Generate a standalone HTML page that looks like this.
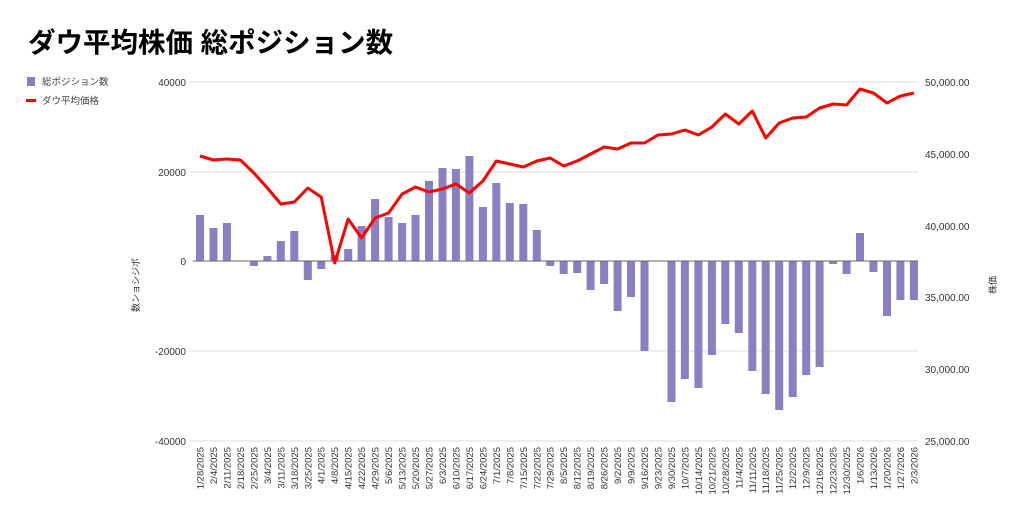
<!DOCTYPE html>
<html><head><meta charset="utf-8"><style>
html,body{margin:0;padding:0;background:#fff;}
svg{display:block;font-family:"Liberation Sans","Noto Sans CJK JP",sans-serif;}
</style></head><body>
<svg width="1024" height="522" viewBox="0 0 1024 522" xmlns="http://www.w3.org/2000/svg">
<text x="28" y="52" font-size="27.5" font-weight="bold" fill="#000">ダウ平均株価 総ポジション数</text>
<rect x="27" y="77" width="8" height="9" fill="#8c7ec2"/>
<text x="42" y="85" font-size="9.5" fill="#444">総ポジション数</text>
<rect x="26" y="99" width="10" height="3" fill="#f00"/>
<text x="42" y="104" font-size="9.5" fill="#444">ダウ平均価格</text>
<g stroke="#ddd" stroke-width="1">
<line x1="190" y1="82" x2="918" y2="82"/><line x1="190" y1="172" x2="918" y2="172"/>
<line x1="190" y1="351" x2="918" y2="351"/><line x1="190" y1="441" x2="918" y2="441"/>
</g>
<g font-size="10" fill="#333" text-anchor="end">
<text x="186" y="86">40000</text><text x="186" y="176">20000</text><text x="186" y="265">0</text>
<text x="186" y="355">-20000</text><text x="186" y="445">-40000</text>
</g>
<g font-size="10" fill="#333">
<text x="925" y="86">50,000.00</text><text x="925" y="158">45,000.00</text><text x="925" y="230">40,000.00</text>
<text x="925" y="301">35,000.00</text><text x="925" y="373">30,000.00</text><text x="925" y="445">25,000.00</text>
</g>
<text transform="translate(139,285) rotate(-90)" font-size="9" fill="#333" text-anchor="middle">数ンョシジポ</text>
<text transform="translate(996,285) rotate(-90)" font-size="9" fill="#333" text-anchor="middle">株価</text>
<g fill="#8c7ec2">
<rect x="196" y="215" width="8" height="46"/><rect x="209.5" y="228" width="8" height="33"/><rect x="222.9" y="223" width="8" height="38"/>
<rect x="249.9" y="261" width="8" height="5"/><rect x="263.4" y="256" width="8" height="5"/><rect x="276.8" y="241" width="8" height="20"/>
<rect x="290.3" y="231" width="8" height="30"/><rect x="303.8" y="261" width="8" height="19"/><rect x="317.2" y="261" width="8" height="8"/>
<rect x="330.7" y="255" width="8" height="6"/><rect x="344.2" y="249" width="8" height="12"/><rect x="357.6" y="226" width="8" height="35"/>
<rect x="371.1" y="199" width="8" height="62"/><rect x="384.6" y="217" width="8" height="44"/><rect x="398.1" y="223" width="8" height="38"/>
<rect x="411.5" y="215" width="8" height="46"/><rect x="425" y="181" width="8" height="80"/><rect x="438.5" y="168" width="8" height="93"/>
<rect x="451.9" y="169" width="8" height="92"/><rect x="465.4" y="156" width="8" height="105"/><rect x="478.9" y="207" width="8" height="54"/>
<rect x="492.3" y="183" width="8" height="78"/><rect x="505.8" y="203" width="8" height="58"/><rect x="519.3" y="204" width="8" height="57"/>
<rect x="532.8" y="230" width="8" height="31"/><rect x="546.2" y="261" width="8" height="5"/><rect x="559.7" y="261" width="8" height="13"/>
<rect x="573.2" y="261" width="8" height="12"/><rect x="586.6" y="261" width="8" height="29"/><rect x="600.1" y="261" width="8" height="23"/>
<rect x="613.6" y="261" width="8" height="50"/><rect x="627" y="261" width="8" height="36"/><rect x="640.5" y="261" width="8" height="90"/>
<rect x="667.5" y="261" width="8" height="141"/><rect x="680.9" y="261" width="8" height="118"/><rect x="694.4" y="261" width="8" height="127"/>
<rect x="707.9" y="261" width="8" height="94"/><rect x="721.3" y="261" width="8" height="63"/><rect x="734.8" y="261" width="8" height="72"/>
<rect x="748.3" y="261" width="8" height="110"/><rect x="761.7" y="261" width="8" height="133"/><rect x="775.2" y="261" width="8" height="149"/>
<rect x="788.7" y="261" width="8" height="136"/><rect x="802.2" y="261" width="8" height="114"/><rect x="815.6" y="261" width="8" height="106"/>
<rect x="829.1" y="261" width="8" height="3"/><rect x="842.6" y="261" width="8" height="13"/><rect x="856" y="233" width="8" height="28"/>
<rect x="869.5" y="261" width="8" height="11"/><rect x="883" y="261" width="8" height="55"/><rect x="896.4" y="261" width="8" height="39"/>
<rect x="909.9" y="261" width="8" height="39"/>
</g>
<line x1="193" y1="261" x2="918" y2="261" stroke="#666" stroke-width="1"/>
<polyline fill="none" stroke="#f00" stroke-width="3" stroke-linejoin="round" points="200,156 213.5,160 226.9,159 240.4,160 253.9,173 267.4,188 280.8,204 294.3,202 307.8,188 321.2,197 334.7,263 348.2,219 361.6,238 375.1,218 388.6,213 402.1,194 415.5,187 429,192 442.5,189 455.9,184 469.4,193 482.9,181 496.3,161 509.8,164 523.3,167 536.8,161 550.2,158 563.7,166 577.2,161 590.6,154 604.1,147 617.6,149 631,143 644.5,143 658,135 671.5,134 684.9,130 698.4,135 711.9,127 725.3,114 738.8,124 752.3,111 765.7,138 779.2,123 792.7,118 806.2,117 819.6,108 833.1,104 846.6,105 860,89 873.5,93 887,103 900.4,96 913.9,93"/>
<g font-size="9.5" fill="#333" text-anchor="end">
<text transform="translate(203.5,447) rotate(-90)">1/28/2025</text>
<text transform="translate(217,447) rotate(-90)">2/4/2025</text>
<text transform="translate(230.4,447) rotate(-90)">2/11/2025</text>
<text transform="translate(243.9,447) rotate(-90)">2/18/2025</text>
<text transform="translate(257.4,447) rotate(-90)">2/25/2025</text>
<text transform="translate(270.9,447) rotate(-90)">3/4/2025</text>
<text transform="translate(284.3,447) rotate(-90)">3/11/2025</text>
<text transform="translate(297.8,447) rotate(-90)">3/18/2025</text>
<text transform="translate(311.3,447) rotate(-90)">3/25/2025</text>
<text transform="translate(324.7,447) rotate(-90)">4/1/2025</text>
<text transform="translate(338.2,447) rotate(-90)">4/8/2025</text>
<text transform="translate(351.7,447) rotate(-90)">4/15/2025</text>
<text transform="translate(365.1,447) rotate(-90)">4/22/2025</text>
<text transform="translate(378.6,447) rotate(-90)">4/29/2025</text>
<text transform="translate(392.1,447) rotate(-90)">5/6/2025</text>
<text transform="translate(405.6,447) rotate(-90)">5/13/2025</text>
<text transform="translate(419,447) rotate(-90)">5/20/2025</text>
<text transform="translate(432.5,447) rotate(-90)">5/27/2025</text>
<text transform="translate(446,447) rotate(-90)">6/3/2025</text>
<text transform="translate(459.4,447) rotate(-90)">6/10/2025</text>
<text transform="translate(472.9,447) rotate(-90)">6/17/2025</text>
<text transform="translate(486.4,447) rotate(-90)">6/24/2025</text>
<text transform="translate(499.8,447) rotate(-90)">7/1/2025</text>
<text transform="translate(513.3,447) rotate(-90)">7/8/2025</text>
<text transform="translate(526.8,447) rotate(-90)">7/15/2025</text>
<text transform="translate(540.3,447) rotate(-90)">7/22/2025</text>
<text transform="translate(553.7,447) rotate(-90)">7/29/2025</text>
<text transform="translate(567.2,447) rotate(-90)">8/5/2025</text>
<text transform="translate(580.7,447) rotate(-90)">8/12/2025</text>
<text transform="translate(594.1,447) rotate(-90)">8/19/2025</text>
<text transform="translate(607.6,447) rotate(-90)">8/26/2025</text>
<text transform="translate(621.1,447) rotate(-90)">9/2/2025</text>
<text transform="translate(634.5,447) rotate(-90)">9/9/2025</text>
<text transform="translate(648,447) rotate(-90)">9/16/2025</text>
<text transform="translate(661.5,447) rotate(-90)">9/23/2025</text>
<text transform="translate(675,447) rotate(-90)">9/30/2025</text>
<text transform="translate(688.4,447) rotate(-90)">10/7/2025</text>
<text transform="translate(701.9,447) rotate(-90)">10/14/2025</text>
<text transform="translate(715.4,447) rotate(-90)">10/21/2025</text>
<text transform="translate(728.8,447) rotate(-90)">10/28/2025</text>
<text transform="translate(742.3,447) rotate(-90)">11/4/2025</text>
<text transform="translate(755.8,447) rotate(-90)">11/11/2025</text>
<text transform="translate(769.2,447) rotate(-90)">11/18/2025</text>
<text transform="translate(782.7,447) rotate(-90)">11/25/2025</text>
<text transform="translate(796.2,447) rotate(-90)">12/2/2025</text>
<text transform="translate(809.7,447) rotate(-90)">12/9/2025</text>
<text transform="translate(823.1,447) rotate(-90)">12/16/2025</text>
<text transform="translate(836.6,447) rotate(-90)">12/23/2025</text>
<text transform="translate(850.1,447) rotate(-90)">12/30/2025</text>
<text transform="translate(863.5,447) rotate(-90)">1/6/2026</text>
<text transform="translate(877,447) rotate(-90)">1/13/2026</text>
<text transform="translate(890.5,447) rotate(-90)">1/20/2026</text>
<text transform="translate(903.9,447) rotate(-90)">1/27/2026</text>
<text transform="translate(917.4,447) rotate(-90)">2/3/2026</text>
</g>
</svg>
</body></html>
